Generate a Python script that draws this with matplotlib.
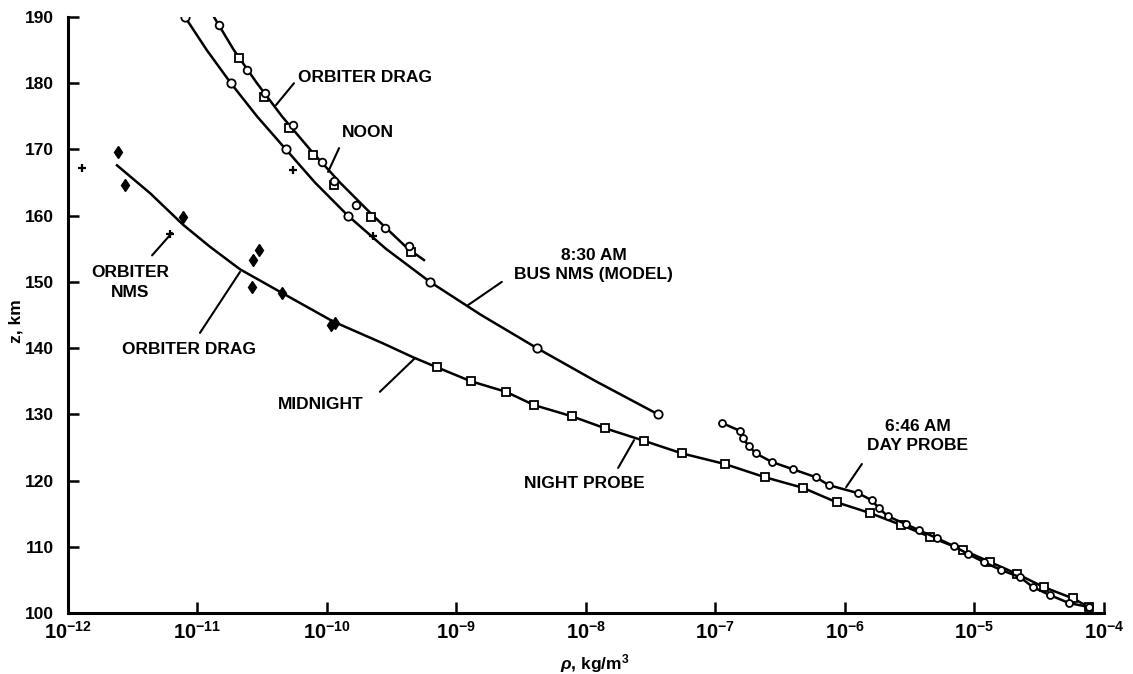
import numpy as np
import matplotlib
matplotlib.use('Agg')
import matplotlib.pyplot as plt
from matplotlib.ticker import FixedLocator, FuncFormatter, NullLocator

# 8:30 AM bus NMS model (points every 10 km, line read every 5 km)
bus_z = [190, 180, 170, 160, 150, 140, 130]
bus_rho = [8.01e-12, 1.81e-11, 4.82e-11, 1.45e-10, 6.24e-10, 4.18e-9, 3.60e-8]
bus_line_z = [190, 185, 180, 175, 170, 165, 160, 155, 150, 145, 140, 135, 130]
bus_line_rho = [8.01e-12, 1.18e-11, 1.81e-11, 2.88e-11, 4.82e-11, 8.08e-11, 1.45e-10,
                2.85e-10, 6.24e-10, 1.55e-9, 4.18e-9, 1.19e-8, 3.60e-8]

# noon curve with orbiter drag points
noon_line_z = [190, 185, 180, 175, 170, 165, 160, 155, 153.3]
noon_line_rho = [1.34e-11, 1.91e-11, 2.88e-11, 4.49e-11, 7.39e-11, 1.26e-10, 2.27e-10, 4.22e-10, 5.61e-10]
noon_sq_z = [183.8, 177.9, 173.2, 169.2, 164.6, 159.8, 154.5]
noon_sq_rho = [2.09e-11, 3.26e-11, 5.09e-11, 7.79e-11, 1.13e-10, 2.19e-10, 4.45e-10]
noon_ci_z = [188.8, 182.0, 178.5, 173.7, 168.1, 165.2, 161.6, 158.1, 155.4]
noon_ci_rho = [1.47e-11, 2.41e-11, 3.32e-11, 5.46e-11, 9.15e-11, 1.13e-10, 1.67e-10, 2.81e-10, 4.30e-10]

# midnight curve (orbiter drag)
mid_z = [167.6, 163.4, 158.6, 155.3, 151.9, 148.5, 144.0, 140.7, 138.6, 137.1]
mid_rho = [2.39e-12, 4.30e-12, 7.77e-12, 1.25e-11, 2.13e-11, 4.34e-11, 1.12e-10, 2.72e-10, 4.64e-10, 7.07e-10]
drag_z = [169.6, 164.6, 159.8, 153.3, 154.8, 149.2, 148.3, 143.8, 143.5]
drag_rho = [2.43e-12, 2.75e-12, 7.73e-12, 2.68e-11, 2.98e-11, 2.64e-11, 4.49e-11, 1.15e-10, 1.07e-10]

# orbiter NMS
nms_z = [167.2, 157.2, 166.9, 156.9]
nms_rho = [1.28e-12, 6.13e-12, 5.46e-11, 2.27e-10]

# night probe
night_z = [137.1, 135.0, 133.4, 131.4, 129.7, 127.9, 126.0, 124.1, 122.5, 120.5, 118.9,
           116.7, 115.1, 113.3, 111.5, 109.5, 107.7, 105.9, 103.9, 102.2, 100.9]
night_rho = [7.07e-10, 1.29e-9, 2.41e-9, 3.97e-9, 7.79e-9, 1.40e-8, 2.81e-8, 5.51e-8, 1.18e-7,
             2.41e-7, 4.74e-7, 8.67e-7, 1.56e-6, 2.71e-6, 4.53e-6, 8.15e-6, 1.32e-5, 2.13e-5,
             3.44e-5, 5.76e-5, 7.66e-5]

# day probe
day_z = [128.7, 127.5, 126.4, 125.2, 124.1, 122.8, 121.7, 120.5, 119.3, 118.1, 117.0, 115.8,
         114.6, 113.4, 112.5, 111.3, 110.1, 108.9, 107.7, 106.5, 105.4, 103.9, 102.7, 101.5, 100.9]
day_rho = [1.12e-7, 1.55e-7, 1.63e-7, 1.81e-7, 2.05e-7, 2.73e-7, 3.97e-7, 5.97e-7, 7.52e-7,
           1.26e-6, 1.62e-6, 1.83e-6, 2.15e-6, 2.96e-6, 3.73e-6, 5.13e-6, 6.94e-6, 8.91e-6,
           1.18e-5, 1.60e-5, 2.25e-5, 2.83e-5, 3.83e-5, 5.37e-5, 7.66e-5]

x_decades = [-12, -11, -10, -9, -8, -7, -6, -5, -4]
y_ticks = [100, 110, 120, 130, 140, 150, 160, 170, 180, 190]

plt.rcParams['font.family'] = ['Liberation Sans', 'DejaVu Sans']
plt.rcParams['font.weight'] = 'bold'
plt.rcParams['mathtext.fontset'] = 'custom'
plt.rcParams['mathtext.rm'] = 'Liberation Sans:bold'
plt.rcParams['mathtext.bf'] = 'Liberation Sans:bold'
plt.rcParams['mathtext.it'] = 'Liberation Sans:italic:bold'

fig = plt.figure(figsize=(11.33, 6.74), dpi=100)
ax = fig.add_axes([0.0600, 0.0905, 0.9144, 0.8843])
ax.set_xscale('log')
ax.set_xlim(1e-12, 1e-4)
ax.set_ylim(100, 190)

lw = 1.8
ms = 6
ax.plot(bus_line_rho, bus_line_z, color='black', lw=lw)
ax.plot(bus_rho, bus_z, ls='none', marker='o', ms=ms, mfc='white', mec='black', mew=1.3)

ax.plot(noon_line_rho, noon_line_z, color='black', lw=lw)
ax.plot(noon_sq_rho, noon_sq_z, ls='none', marker='s', ms=5.5, mfc='white', mec='black', mew=1.3)
ax.plot(noon_ci_rho, noon_ci_z, ls='none', marker='o', ms=5.5, mfc='white', mec='black', mew=1.3)

ax.plot(mid_rho, mid_z, color='black', lw=lw)
ax.plot(drag_rho, drag_z, ls='none', marker='d', ms=6, color='black')
ax.plot(nms_rho, nms_z, ls='none', marker='+', ms=6, mew=1.6, color='black')

ax.plot(night_rho, night_z, color='black', lw=lw, marker='s', ms=5.5, mfc='white', mec='black', mew=1.3)
ax.plot(day_rho, day_z, color='black', lw=lw, marker='o', ms=5, mfc='white', mec='black', mew=1.3)

# labels with leader lines
notes = [
    ('ORBITER DRAG', (5.97e-11, 180.9), 'left', (5.56e-11, 180.0), (4.04e-11, 176.7)),
    ('NOON', (1.306e-10, 172.5), 'left', (1.24e-10, 170.2), (1.02e-10, 166.6)),
    ('8:30 AM\nBUS NMS (MODEL)', (1.15e-8, 152.5), 'center', (2.24e-9, 150.0), (1.23e-9, 146.5)),
    ('ORBITER\nNMS', (3.01e-12, 149.9), 'center', (4.46e-12, 154.0), (6.35e-12, 157.4)),
    ('ORBITER DRAG', (8.67e-12, 139.8), 'center', (1.045e-11, 142.3), (2.13e-11, 151.5)),
    ('MIDNIGHT', (9.0e-11, 131.5), 'center', (2.56e-10, 133.4), (4.79e-10, 138.5)),
    ('NIGHT PROBE', (9.66e-9, 119.6), 'center', (1.77e-8, 121.9), (2.35e-8, 126.1)),
    ('6:46 AM\nDAY PROBE', (3.66e-6, 126.7), 'center', (1.35e-6, 122.5), (1.02e-6, 119.0)),
]
for txt, pos, ha, p0, p1 in notes:
    ax.text(pos[0], pos[1], txt, ha=ha, va='center', fontsize=12.5, fontweight='bold',
            linespacing=1.35, multialignment='center')
    ax.annotate('', xy=p1, xytext=p0,
                arrowprops=dict(arrowstyle='-', lw=1.5, color='black', shrinkA=0, shrinkB=0))

for s in ['top', 'right']:
    ax.spines[s].set_visible(False)
for s in ['left', 'bottom']:
    ax.spines[s].set_linewidth(2.2)

ax.xaxis.set_major_locator(FixedLocator([10.0 ** d for d in x_decades]))
ax.xaxis.set_minor_locator(NullLocator())
ax.xaxis.set_major_formatter(FuncFormatter(lambda v, _: r'$\mathbf{10^{%d}}$' % round(np.log10(v))))
ax.yaxis.set_major_locator(FixedLocator(y_ticks))
ax.tick_params(axis='both', direction='in', length=8, width=1.8)
ax.tick_params(axis='x', pad=6, labelsize=14.5)
ax.tick_params(axis='y', pad=10, labelsize=12.5)
for lab in ax.get_yticklabels():
    lab.set_fontweight('bold')

ax.set_ylabel('z, km', fontsize=12.5, fontweight='bold')
ax.yaxis.set_label_coords(-0.043, 0.49)
ax.set_xlabel(r'$\mathit{\rho}$, kg/m$^{3}$', fontsize=12.5, fontweight='bold')
ax.xaxis.set_label_coords(0.508, -0.066)

fig.savefig('out.png', dpi=100)
